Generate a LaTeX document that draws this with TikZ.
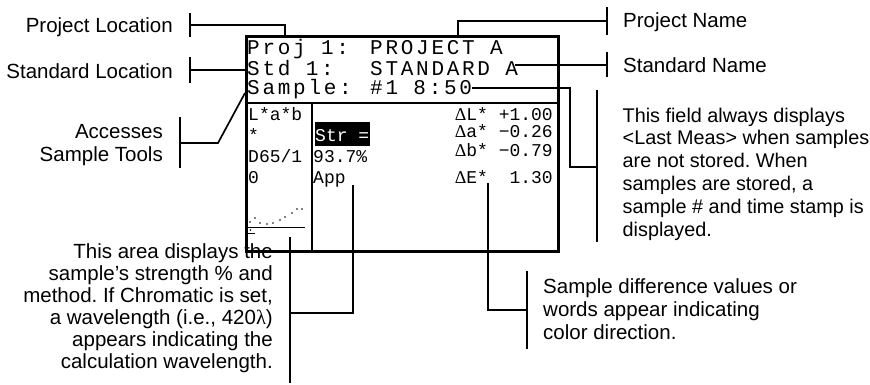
\documentclass[tikz,border=0pt]{standalone}
\usepackage{fontspec}
\setmainfont{Liberation Sans}
\newfontfamily\scrmono{Liberation Mono}
\newfontfamily\scrmonols[LetterSpace=13]{Liberation Mono}
\newfontfamily\scrserif{Liberation Serif}
\frenchspacing
\tikzset{
  lbl/.style={font=\fontsize{20.5}{23}\selectfont, inner sep=0pt},
  hdr/.style={font=\scrmonols\fontsize{21}{21}\selectfont, inner sep=0pt, anchor=base west},
  scr/.style={font=\scrmono\fontsize{18}{18}\selectfont, inner sep=0pt, anchor=base west},
  scrr/.style={font=\scrmono\fontsize{18}{18}\selectfont, inner sep=0pt, anchor=base east},
  lead/.style={line width=1.7pt},
  tickbar/.style={line width=1.7pt},
  frame/.style={line width=2.7pt},
  dotmark/.style={fill=black, inner sep=0pt, minimum size=1.8pt, circle}
}
\begin{document}
\begin{tikzpicture}[x=1pt,y=-1pt]
\useasboundingbox (0,0) rectangle (870,385);

% screen frame
\node[draw, frame, anchor=north west, minimum width=312pt, minimum height=215pt, inner sep=0pt] (screen) at (245,35) {};
\coordinate (divL) at (245,103);
\coordinate (divR) at (557,103);
\coordinate (colT) at (312,103);
\coordinate (colB) at (312,250);
\draw[frame] (divL) -- (divR);
\draw[frame] (colT) -- (colB);

% header text
\node[hdr] (proj) at (247,55) {Proj 1:};
\node[hdr] (projval) at (370,55) {PROJECT A};
\node[hdr] (std) at (247,75.5) {Std 1:};
\node[hdr] (stdval) at (370,75.5) {STANDARD A};
\node[hdr] (smp) at (247,95) {Sample:};
\node[hdr] (smpval) at (370,95) {\#1 8:50};

% lower panel text
\node[scr] (lab1) at (248,121) {L*a*b};
\node[scr] (lab2) at (248,142) {*};
\node[scr] (lab3) at (248,163) {D65/1};
\node[scr] (lab4) at (248,183) {0};
\node[scr, fill=black, text=white, text height=20pt, text depth=4pt, inner xsep=0.5pt] (str) at (314.5,142) {Str =};
\node[scr] (pct) at (313,163) {93.7\%};
\node[scr] (app) at (313,183) {App};
\node[scrr] (dL) at (553,121) {{\scrserif Δ}L* +1.00};
\node[scrr] (da) at (553,138) {{\scrserif Δ}a* −0.26};
\node[scrr] (db) at (553,157) {{\scrserif Δ}b* −0.79};
\node[scrr] (dE) at (553,183) {{\scrserif Δ}E*\ \ 1.30};

% little chart
\foreach \i/\px/\py in {1/250/222,2/255/218,3/260/223,4/267/224,5/273/223,6/280/220,7/285/217,8/292/213,9/297/209,10/302/209}
  \node[dotmark] (cd\i) at (\px,\py) {};
\coordinate (ulA) at (248,227);
\coordinate (ulB) at (305,227);
\draw[line width=0.9pt] (ulA) -- (ulB);
\node[dotmark] (cdot) at (250.5,230) {};
\coordinate (dsA) at (248,233.5);
\coordinate (dsB) at (254.5,233.5);
\draw[line width=1.4pt] (dsA) -- (dsB);

% labels
\node[lbl, anchor=base east] (projloc) at (173,33) {Project Location};
\node[lbl, anchor=base east] (stdloc) at (173,79) {Standard Location};
\node[lbl, anchor=north east, align=right] (access) at (163,124.3) {Accesses\\Sample Tools};
\node[lbl, anchor=base west] (projname) at (623,28) {Project Name};
\node[lbl, anchor=base west] (stdname) at (623,73) {Standard Name};
\node[lbl, anchor=north west, align=left, font=\fontsize{19.8}{22.8}\selectfont] (field) at (622.5,107.5)
  {This field always displays\\<Last Meas> when samples\\are not stored. When\\samples are stored, a\\sample \# and time stamp is\\displayed.};
\node[lbl, anchor=north west, align=left] (diff) at (543,278.3)
  {Sample difference values or\\words appear indicating\\color direction.};
\node[lbl, anchor=north east, align=right, font=\fontsize{20.5}{22}\selectfont] (area) at (273,243.3)
  {This area displays the\\sample’s strength \% and\\method. If Chromatic is set,\\a wavelength (i.e., 420{\scrserif λ})\\appears indicating the\\calculation wavelength.};

% leader: project location
\coordinate (plT) at (190,13); \coordinate (plB) at (190,37);
\coordinate (plM) at (190,25); \coordinate (plE) at (285,35);
\draw[tickbar] (plT) -- (plB);
\draw[lead] (plM) -| (plE);
% standard location
\coordinate (slT) at (190,57); \coordinate (slB) at (190,83);
\coordinate (slM) at (190,70); \coordinate (slE) at (245,70);
\draw[tickbar] (slT) -- (slB);
\draw[lead] (slM) -- (slE);
% accesses sample tools
\coordinate (acT) at (180,117); \coordinate (acB) at (180,168);
\coordinate (acM) at (180,143); \coordinate (acK) at (218,143); \coordinate (acE) at (245,93);
\draw[tickbar] (acT) -- (acB);
\draw[lead] (acM) -- (acK) -- (acE);
% project name
\coordinate (pnS) at (458,35); \coordinate (pnM) at (607,21);
\coordinate (pnT) at (607,7); \coordinate (pnB) at (607,35);
\draw[lead] (pnS) |- (pnM);
\draw[tickbar] (pnT) -- (pnB);
% standard name
\coordinate (snS) at (515,65); \coordinate (snM) at (607,65);
\coordinate (snT) at (607,52); \coordinate (snB) at (607,77);
\draw[lead] (snS) -- (snM);
\draw[tickbar] (snT) -- (snB);
% sample field
\coordinate (sfS) at (472,88); \coordinate (sfK) at (570,167); \coordinate (sfM) at (597,167);
\coordinate (sfT) at (597,90); \coordinate (sfB) at (597,242);
\draw[lead] (sfS) -| (sfK) -- (sfM);
\draw[tickbar] (sfT) -- (sfB);
% app / strength area
\coordinate (apS) at (353,185); \coordinate (apK) at (353,313); \coordinate (apM) at (290,313);
\coordinate (apT) at (290,237); \coordinate (apB) at (290,383);
\draw[lead] (apS) -- (apK) -- (apM);
\draw[tickbar] (apT) -- (apB);
% delta E / difference values
\coordinate (deS) at (488,183); \coordinate (deK) at (488,310); \coordinate (deM) at (527,310);
\coordinate (deT) at (527,271); \coordinate (deB) at (527,349);
\draw[lead] (deS) -- (deK) -- (deM);
\draw[tickbar] (deT) -- (deB);
\end{tikzpicture}
\end{document}
